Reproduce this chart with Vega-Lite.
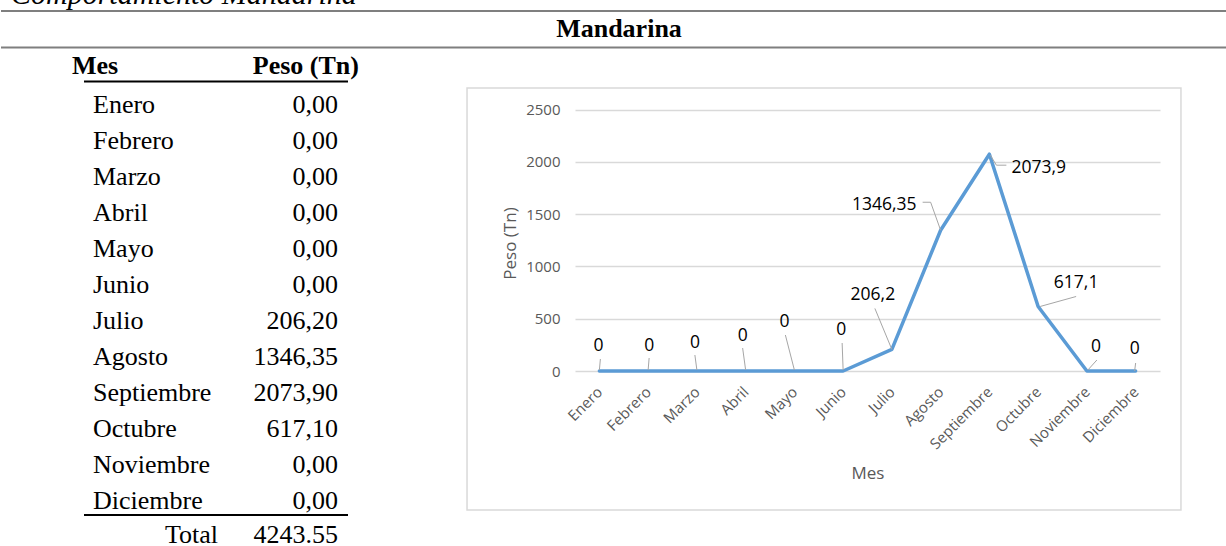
{
  "$schema": "https://vega.github.io/schema/vega-lite/v6.json",
  "padding": 0,
  "background": "white",
  "spacing": 0,
  "config": {
    "view": {"stroke": null},
    "locale": {"number": {"decimal": ",", "thousands": ".", "grouping": [3], "currency": ["", ""]}},
    "style": {
      "etiqueta": {"font": "Open Sans", "fontSize": 17.5, "fill": "#404040", "baseline": "middle", "align": "center"},
      "celda": {"font": "Liberation Serif", "fontSize": 26, "fill": "black", "baseline": "alphabetic"}
    },
    "axisX": {
      "grid": false,
      "domain": false,
      "ticks": false,
      "labelAngle": -45,
      "labelAlign": "right",
      "labelBaseline": "middle",
      "labelFont": "Open Sans",
      "labelFontSize": 15,
      "labelColor": "#595959",
      "labelPadding": 18,
      "labelOverlap": false,
      "titleFont": "Open Sans",
      "titleFontSize": 17,
      "titleFontWeight": "normal",
      "titleColor": "#595959",
      "titlePadding": 14
    },
    "axisY": {
      "grid": true,
      "gridColor": "#d9d9d9",
      "gridWidth": 1.5,
      "domain": false,
      "ticks": false,
      "labelFont": "Open Sans",
      "labelFontSize": 15,
      "labelColor": "#595959",
      "labelPadding": 15,
      "titleFont": "Open Sans",
      "titleFontSize": 17,
      "titleFontWeight": "normal",
      "titleColor": "#595959",
      "titlePadding": 6,
      "titleY": 194
    }
  },
  "datasets": {
    "meses": [
      {"Mes": "Enero", "Orden": 1, "Peso": 0},
      {"Mes": "Febrero", "Orden": 2, "Peso": 0},
      {"Mes": "Marzo", "Orden": 3, "Peso": 0},
      {"Mes": "Abril", "Orden": 4, "Peso": 0},
      {"Mes": "Mayo", "Orden": 5, "Peso": 0},
      {"Mes": "Junio", "Orden": 6, "Peso": 0},
      {"Mes": "Julio", "Orden": 7, "Peso": 206.2},
      {"Mes": "Agosto", "Orden": 8, "Peso": 1346.35},
      {"Mes": "Septiembre", "Orden": 9, "Peso": 2073.9},
      {"Mes": "Octubre", "Orden": 10, "Peso": 617.1},
      {"Mes": "Noviembre", "Orden": 11, "Peso": 0},
      {"Mes": "Diciembre", "Orden": 12, "Peso": 0}
    ]
  },
  "vconcat": [
    {
      "width": 1226,
      "height": 49,
      "data": {"values": [{"titulo": "Mandarina", "figura": "Comportamiento Mandarina"}]},
      "layer": [
        {
          "mark": {"type": "text", "font": "Liberation Serif", "fontStyle": "italic", "fontSize": 30, "align": "left", "baseline": "alphabetic", "clip": true, "color": "black"},
          "encoding": {
            "text": {"field": "figura"},
            "x": {"datum": 10, "type": "quantitative", "scale": {"domain": [0, 1226], "nice": false, "zero": false}, "axis": null},
            "y": {"datum": 4, "type": "quantitative", "scale": {"domain": [0, 49], "reverse": true, "nice": false, "zero": false}, "axis": null}
          }
        },
        {
          "mark": {"type": "rule", "color": "#7f7f7f", "strokeWidth": 2},
          "encoding": {"y": {"datum": 11, "type": "quantitative", "axis": null}}
        },
        {
          "mark": {"type": "rule", "color": "#7f7f7f", "strokeWidth": 2},
          "encoding": {"y": {"datum": 47.5, "type": "quantitative", "axis": null}}
        },
        {
          "mark": {"type": "text", "font": "Liberation Serif", "fontWeight": "bold", "fontSize": 26, "align": "center", "baseline": "alphabetic", "dx": 5, "color": "black"},
          "encoding": {
            "text": {"field": "titulo"},
            "y": {"datum": 37, "type": "quantitative", "axis": null}
          }
        }
      ]
    },
    {
      "hconcat": [
        {
          "width": 465,
          "height": 497,
          "data": {"name": "meses"},
          "layer": [
            {
              "mark": {"type": "text", "style": "celda", "align": "left"},
              "encoding": {
                "x": {"datum": 92, "type": "quantitative", "scale": {"domain": [0, 465], "nice": false, "zero": false}, "axis": null},
                "y": {"field": "Orden", "type": "quantitative", "scale": {"domain": [-0.7778, 13.0278], "reverse": true, "nice": false, "zero": false}, "axis": null},
                "text": {"field": "Mes"}
              }
            },
            {
              "mark": {"type": "text", "style": "celda", "align": "right"},
              "encoding": {
                "x": {"datum": 337, "type": "quantitative", "axis": null},
                "y": {"field": "Orden", "type": "quantitative", "axis": null},
                "text": {"field": "Peso", "format": ".2f"}
              }
            },
            {
              "data": {"values": [{"columna1": "Mes", "columna2": "Peso (Tn)"}]},
              "mark": {"type": "text", "style": "celda", "fontWeight": "bold", "align": "left"},
              "encoding": {
                "x": {"datum": 71, "type": "quantitative", "axis": null},
                "y": {"datum": -0.083, "type": "quantitative", "axis": null},
                "text": {"field": "columna1"}
              }
            },
            {
              "data": {"values": [{"columna1": "Mes", "columna2": "Peso (Tn)"}]},
              "mark": {"type": "text", "style": "celda", "fontWeight": "bold", "align": "right"},
              "encoding": {
                "x": {"datum": 358, "type": "quantitative", "axis": null},
                "y": {"datum": -0.083, "type": "quantitative", "axis": null},
                "text": {"field": "columna2"}
              }
            },
            {
              "data": {"values": [{"linea": "encabezado"}]},
              "mark": {"type": "rule", "color": "black", "strokeWidth": 2},
              "encoding": {
                "x": {"datum": 83, "type": "quantitative", "axis": null},
                "x2": {"datum": 347},
                "y": {"datum": 0.125, "type": "quantitative", "axis": null}
              }
            },
            {
              "data": {"values": [{"linea": "pie"}]},
              "mark": {"type": "rule", "color": "black", "strokeWidth": 2},
              "encoding": {
                "x": {"datum": 83, "type": "quantitative", "axis": null},
                "x2": {"datum": 347},
                "y": {"datum": 12.167, "type": "quantitative", "axis": null}
              }
            },
            {
              "transform": [{"aggregate": [{"op": "sum", "field": "Peso", "as": "Total"}]}],
              "mark": {"type": "text", "style": "celda", "align": "right", "text": "Total"},
              "encoding": {
                "x": {"datum": 217, "type": "quantitative", "axis": null},
                "y": {"datum": 12.95, "type": "quantitative", "axis": null}
              }
            },
            {
              "transform": [{"aggregate": [{"op": "sum", "field": "Peso", "as": "Total"}]}],
              "mark": {"type": "text", "style": "celda", "align": "right", "text": {"expr": "replace(format(datum.Total, '.2f'), ',', '.')"}},
              "encoding": {
                "x": {"datum": 337, "type": "quantitative", "axis": null},
                "y": {"datum": 12.95, "type": "quantitative", "axis": null}
              }
            }
          ]
        },
        {
          "width": 585,
          "height": 322,
          "layer": [
            {
              "data": {"values": [{"marco": "grafico"}]},
              "mark": {"type": "rect", "fillOpacity": 0, "fill": "white", "stroke": "#d9d9d9", "strokeWidth": 1.5},
              "encoding": {
                "x": {
                  "datum": -1.715, "type": "quantitative",
                  "scale": {"domain": [0.5, 12.5], "nice": false, "zero": false},
                  "title": "Mes",
                  "axis": {
                    "values": [1, 2, 3, 4, 5, 6, 7, 8, 9, 10, 11, 12],
                    "labelExpr": "['Enero','Febrero','Marzo','Abril','Mayo','Junio','Julio','Agosto','Septiembre','Octubre','Noviembre','Diciembre'][datum.value - 1]"
                  }
                },
                "x2": {"datum": 12.93},
                "y": {
                  "datum": 2707, "type": "quantitative",
                  "scale": {"domain": [0, 3080], "nice": false, "zero": false},
                  "title": "Peso (Tn)",
                  "axis": {"values": [0, 500, 1000, 1500, 2000, 2500], "format": "d"}
                },
                "y2": {"datum": -1330}
              }
            },
            {
              "data": {"name": "meses"},
              "encoding": {
                "x": {
                  "field": "Orden", "type": "quantitative", "title": "Mes",
                  "axis": {
                    "values": [1, 2, 3, 4, 5, 6, 7, 8, 9, 10, 11, 12],
                    "labelExpr": "['Enero','Febrero','Marzo','Abril','Mayo','Junio','Julio','Agosto','Septiembre','Octubre','Noviembre','Diciembre'][datum.value - 1]"
                  }
                },
                "y": {
                  "field": "Peso", "type": "quantitative", "title": "Peso (Tn)",
                  "axis": {"values": [0, 500, 1000, 1500, 2000, 2500], "format": "d"}
                }
              },
              "layer": [
                {
                  "mark": {"type": "line", "color": "#5b9bd5", "strokeWidth": 3.5, "strokeJoin": "round", "strokeCap": "round"},
                  "encoding": {}
                },
                {
                  "transform": [{"filter": {"field": "Mes", "equal": "Enero"}}],
                  "layer": [
                    {"mark": {"type": "rule", "color": "#a6a6a6", "strokeWidth": 1, "xOffset": 1, "yOffset": -12, "x2Offset": 0, "y2Offset": -1}, "encoding": {"x2": {"field": "Orden"}, "y2": {"field": "Peso"}}},
                    {"mark": {"type": "text", "style": "etiqueta", "dx": -1, "dy": -25}, "encoding": {"text": {"field": "Peso", "format": "~f"}}}
                  ]
                },
                {
                  "transform": [{"filter": {"field": "Mes", "equal": "Febrero"}}],
                  "layer": [
                    {"mark": {"type": "rule", "color": "#a6a6a6", "strokeWidth": 1, "xOffset": 1, "yOffset": -13, "x2Offset": 0, "y2Offset": -1}, "encoding": {"x2": {"field": "Orden"}, "y2": {"field": "Peso"}}},
                    {"mark": {"type": "text", "style": "etiqueta", "dx": 1, "dy": -25}, "encoding": {"text": {"field": "Peso", "format": "~f"}}}
                  ]
                },
                {
                  "transform": [{"filter": {"field": "Mes", "equal": "Marzo"}}],
                  "layer": [
                    {"mark": {"type": "rule", "color": "#a6a6a6", "strokeWidth": 1, "xOffset": -2, "yOffset": -16, "x2Offset": 0, "y2Offset": -1}, "encoding": {"x2": {"field": "Orden"}, "y2": {"field": "Peso"}}},
                    {"mark": {"type": "text", "style": "etiqueta", "dx": -2, "dy": -28}, "encoding": {"text": {"field": "Peso", "format": "~f"}}}
                  ]
                },
                {
                  "transform": [{"filter": {"field": "Mes", "equal": "Abril"}}],
                  "layer": [
                    {"mark": {"type": "rule", "color": "#a6a6a6", "strokeWidth": 1, "xOffset": -3, "yOffset": -23, "x2Offset": 0, "y2Offset": -1}, "encoding": {"x2": {"field": "Orden"}, "y2": {"field": "Peso"}}},
                    {"mark": {"type": "text", "style": "etiqueta", "dx": -3, "dy": -35}, "encoding": {"text": {"field": "Peso", "format": "~f"}}}
                  ]
                },
                {
                  "transform": [{"filter": {"field": "Mes", "equal": "Mayo"}}],
                  "layer": [
                    {"mark": {"type": "rule", "color": "#a6a6a6", "strokeWidth": 1, "xOffset": -9, "yOffset": -36, "x2Offset": 0, "y2Offset": -1}, "encoding": {"x2": {"field": "Orden"}, "y2": {"field": "Peso"}}},
                    {"mark": {"type": "text", "style": "etiqueta", "dx": -10, "dy": -49}, "encoding": {"text": {"field": "Peso", "format": "~f"}}}
                  ]
                },
                {
                  "transform": [{"filter": {"field": "Mes", "equal": "Junio"}}],
                  "layer": [
                    {"mark": {"type": "rule", "color": "#a6a6a6", "strokeWidth": 1, "xOffset": -1, "yOffset": -28, "x2Offset": 0, "y2Offset": -1}, "encoding": {"x2": {"field": "Orden"}, "y2": {"field": "Peso"}}},
                    {"mark": {"type": "text", "style": "etiqueta", "dx": -2, "dy": -41}, "encoding": {"text": {"field": "Peso", "format": "~f"}}}
                  ]
                },
                {
                  "transform": [{"filter": {"field": "Mes", "equal": "Julio"}}],
                  "layer": [
                    {"mark": {"type": "rule", "color": "#a6a6a6", "strokeWidth": 1, "xOffset": -17, "yOffset": -41, "x2Offset": 0, "y2Offset": 0}, "encoding": {"x2": {"field": "Orden"}, "y2": {"field": "Peso"}}},
                    {"mark": {"type": "text", "style": "etiqueta", "dx": -19, "dy": -54}, "encoding": {"text": {"field": "Peso", "format": "~f"}}}
                  ]
                },
                {
                  "transform": [{"filter": {"field": "Mes", "equal": "Agosto"}}],
                  "layer": [
                    {"mark": {"type": "rule", "color": "#a6a6a6", "strokeWidth": 1, "xOffset": -18, "yOffset": -28, "x2Offset": -10, "y2Offset": -28}, "encoding": {"x2": {"field": "Orden"}, "y2": {"field": "Peso"}}},
                    {"mark": {"type": "rule", "color": "#a6a6a6", "strokeWidth": 1, "xOffset": -10, "yOffset": -28, "x2Offset": 0, "y2Offset": 0}, "encoding": {"x2": {"field": "Orden"}, "y2": {"field": "Peso"}}},
                    {"mark": {"type": "text", "style": "etiqueta", "align": "right", "dx": -24, "dy": -25}, "encoding": {"text": {"field": "Peso", "format": "~f"}}}
                  ]
                },
                {
                  "transform": [{"filter": {"field": "Mes", "equal": "Septiembre"}}],
                  "layer": [
                    {"mark": {"type": "rule", "color": "#a6a6a6", "strokeWidth": 1, "xOffset": 1, "yOffset": 1, "x2Offset": 7, "y2Offset": 11}, "encoding": {"x2": {"field": "Orden"}, "y2": {"field": "Peso"}}},
                    {"mark": {"type": "rule", "color": "#a6a6a6", "strokeWidth": 1, "xOffset": 7, "yOffset": 11, "x2Offset": 17, "y2Offset": 11}, "encoding": {"x2": {"field": "Orden"}, "y2": {"field": "Peso"}}},
                    {"mark": {"type": "text", "style": "etiqueta", "align": "left", "dx": 22, "dy": 14}, "encoding": {"text": {"field": "Peso", "format": "~f"}}}
                  ]
                },
                {
                  "transform": [{"filter": {"field": "Mes", "equal": "Octubre"}}],
                  "layer": [
                    {"mark": {"type": "rule", "color": "#a6a6a6", "strokeWidth": 1, "xOffset": 2, "yOffset": 0, "x2Offset": 38, "y2Offset": -10}, "encoding": {"x2": {"field": "Orden"}, "y2": {"field": "Peso"}}},
                    {"mark": {"type": "text", "style": "etiqueta", "dx": 38, "dy": -23}, "encoding": {"text": {"field": "Peso", "format": "~f"}}}
                  ]
                },
                {
                  "transform": [{"filter": {"field": "Mes", "equal": "Noviembre"}}],
                  "layer": [
                    {"mark": {"type": "rule", "color": "#a6a6a6", "strokeWidth": 1, "xOffset": 1, "yOffset": -1, "x2Offset": 10, "y2Offset": -11}, "encoding": {"x2": {"field": "Orden"}, "y2": {"field": "Peso"}}},
                    {"mark": {"type": "text", "style": "etiqueta", "dx": 9, "dy": -24}, "encoding": {"text": {"field": "Peso", "format": "~f"}}}
                  ]
                },
                {
                  "transform": [{"filter": {"field": "Mes", "equal": "Diciembre"}}],
                  "layer": [
                    {"mark": {"type": "rule", "color": "#a6a6a6", "strokeWidth": 1, "xOffset": 0, "yOffset": -8, "x2Offset": -1, "y2Offset": 0}, "encoding": {"x2": {"field": "Orden"}, "y2": {"field": "Peso"}}},
                    {"mark": {"type": "text", "style": "etiqueta", "dx": -1, "dy": -22}, "encoding": {"text": {"field": "Peso", "format": "~f"}}}
                  ]
                }
              ]
            }
          ]
        }
      ],
      "spacing": 0
    }
  ]
}
